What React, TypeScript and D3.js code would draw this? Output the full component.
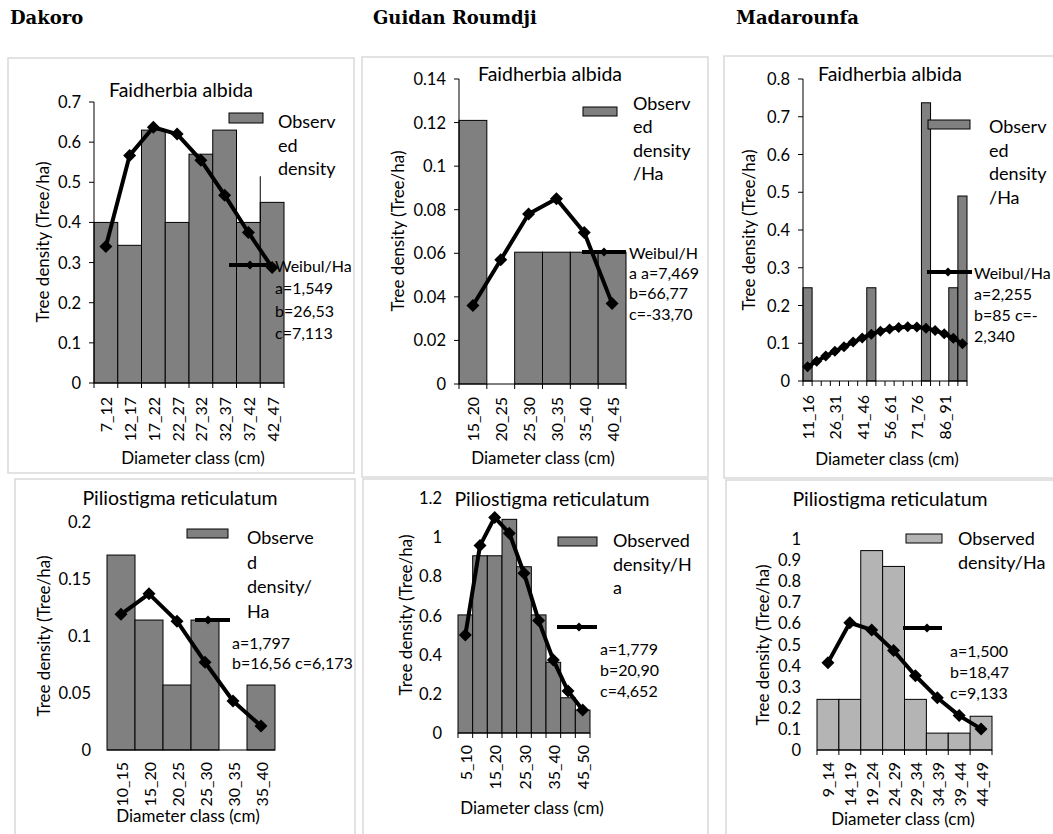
import React from 'react';
import * as d3 from 'd3';

// Dakoro - Faidherbia albida
const dakFaidClasses = ['7_12', '12_17', '17_22', '22_27', '27_32', '32_37', '37_42', '42_47'];
const dakFaidObserved = [0.40, 0.343, 0.63, 0.40, 0.57, 0.63, 0.40, 0.45];
const dakFaidWeibull = [0.34, 0.567, 0.637, 0.62, 0.555, 0.468, 0.375, 0.288];

// Guidan Roumdji - Faidherbia albida
const gurFaidClasses = ['15_20', '20_25', '25_30', '30_35', '35_40', '40_45'];
const gurFaidObserved = [0.121, 0, 0.0605, 0.0605, 0.0605, 0.0605];
const gurFaidWeibull = [0.036, 0.057, 0.078, 0.085, 0.0695, 0.037];

// Madarounfa - Faidherbia albida
const madFaidClasses = ['11_16', '16_21', '21_26', '26_31', '31_36', '36_41', '41_46', '46_51', '51_56',
  '56_61', '61_66', '66_71', '71_76', '76_81', '81_86', '86_91', '91_96', '96_101'];
const madFaidObserved = [0.247, 0, 0, 0, 0, 0, 0, 0.247, 0, 0, 0, 0, 0, 0.737, 0, 0, 0.247, 0.49];
const madFaidWeibull = [0.038, 0.052, 0.066, 0.079, 0.091, 0.103, 0.114, 0.124, 0.132,
  0.138, 0.142, 0.144, 0.143, 0.140, 0.134, 0.125, 0.113, 0.099];

// Dakoro - Piliostigma reticulatum
const dakPiliClasses = ['10_15', '15_20', '20_25', '25_30', '30_35', '35_40'];
const dakPiliObserved = [0.171, 0.114, 0.057, 0.114, 0, 0.057];
const dakPiliWeibull = [0.119, 0.137, 0.113, 0.077, 0.043, 0.021];

// Guidan Roumdji - Piliostigma reticulatum
const gurPiliClasses = ['5_10', '10_15', '15_20', '20_25', '25_30', '30_35', '35_40', '40_45', '45_50'];
const gurPiliObserved = [0.603, 0.905, 0.905, 1.091, 0.849, 0.603, 0.361, 0.18, 0.117];
const gurPiliWeibull = [0.50, 0.957, 1.101, 1.02, 0.816, 0.574, 0.373, 0.214, 0.117];

// Madarounfa - Piliostigma reticulatum
const madPiliClasses = ['9_14', '14_19', '19_24', '24_29', '29_34', '34_39', '39_44', '44_49'];
const madPiliObserved = [0.24, 0.24, 0.945, 0.87, 0.24, 0.08, 0.08, 0.16];
const madPiliWeibull = [0.414, 0.603, 0.569, 0.471, 0.352, 0.248, 0.163, 0.100];

const sites = [
  { name: 'Dakoro', x: 10 },
  { name: 'Guidan Roumdji', x: 373 },
  { name: 'Madarounfa', x: 736 },
];

const FONT = "Lato, 'Open Sans', sans-serif";
// font sizes
const FS = { title: 19.5, yTick: 16.5, xTick: 16, axis: 17, legend: 18, param: 16 };

const panels = [
  {
    box: [8, 58, 346, 415], left: 94, right: 284, y0: 383, yTop: 102, yMax: 0.7, step: 0.1,
    classes: dakFaidClasses, observed: dakFaidObserved, weibull: dakFaidWeibull, every: 1,
    fill: '#808080', yLine: true, xTicks: true, markerR: 6.5,
    title: ['Faidherbia albida', 181, 89], yTitle: [42, 242], xTitle: [193, 457], tickTop: 397,
    obs: { x1: 229, x2: 263, y1: 113, y2: 123, tx: 278, ty: 121, dy: 23.5, lines: ['Observ', 'ed', 'density'] },
    wl: { x1: 229, x2: 273, y: 265, mx: 250, tx: 275, ty: 265, dy: 22.5, lines: ['Weibul/Ha', 'a=1,549', 'b=26,53', 'c=7,113'] },
    extra: { at: 7, from: 0.40, to: 0.515 },
  },
  {
    box: [362, 57, 346, 420], left: 459, right: 626, y0: 384, yTop: 79, yMax: 0.14, step: 0.02,
    classes: gurFaidClasses, observed: gurFaidObserved, weibull: gurFaidWeibull, every: 1,
    fill: '#808080', yLine: true, xTicks: true, markerR: 6.5,
    title: ['Faidherbia albida', 550, 73], yTitle: [397, 231], xTitle: [543, 457], tickTop: 397,
    obs: { x1: 583, x2: 617, y1: 107, y2: 116, tx: 633, ty: 103, dy: 23.3, lines: ['Observ', 'ed', 'density', '/Ha'] },
    wl: { x1: 582, x2: 626, y: 252, mx: 604, tx: 629, ty: 252, dy: 20.4, lines: ['Weibul/H', 'a a=7,469', 'b=66,77', 'c=-33,70'] },
  },
  {
    box: [724, 56, 340, 422], left: 803, right: 967, y0: 381, yTop: 79, yMax: 0.8, step: 0.1,
    classes: madFaidClasses, observed: madFaidObserved, weibull: madFaidWeibull, every: 3,
    fill: '#808080', yLine: true, xTicks: true, markerR: 5.5,
    title: ['Faidherbia albida', 890, 73], yTitle: [748, 230], xTitle: [887, 458], tickTop: 395,
    obs: { x1: 928, x2: 970, y1: 120, y2: 129, tx: 989, ty: 126, dy: 23.7, lines: ['Observ', 'ed', 'density', '/Ha'] },
    wl: { x1: 927, x2: 972, y: 272, mx: 948, tx: 974, ty: 272, dy: 21.3, lines: ['Weibul/Ha', 'a=2,255', 'b=85 c=-', '2,340'] },
  },
  {
    box: [15, 479, 340, 370], left: 107, right: 275, y0: 750, yTop: 522, yMax: 0.2, step: 0.05,
    classes: dakPiliClasses, observed: dakPiliObserved, weibull: dakPiliWeibull, every: 1,
    fill: '#808080', yLine: false, xTicks: false, markerR: 6.5,
    title: ['Piliostigma reticulatum', 180, 497], yTitle: [43, 636], xTitle: [188, 815], tickTop: 762,
    obs: { x1: 187, x2: 228, y1: 529, y2: 538, tx: 247, ty: 537, dy: 24.7, lines: ['Observe', 'd', 'density/', 'Ha'] },
    wl: { x1: 195, x2: 230, y: 620, mx: 208, tx: 232, ty: 642, dy: 20.5, lines: ['a=1,797', 'b=16,56 c=6,173'] },
  },
  {
    box: [363, 479, 345, 370], left: 458, right: 590, y0: 733, yTop: 498, yMax: 1.2, step: 0.2,
    classes: gurPiliClasses, observed: gurPiliObserved, weibull: gurPiliWeibull, every: 2,
    fill: '#808080', yLine: false, xTicks: true, markerR: 6.5,
    title: ['Piliostigma reticulatum', 552, 498], yTitle: [405, 615], xTitle: [532, 807], tickTop: 745,
    obs: { x1: 558, x2: 597, y1: 537, y2: 546, tx: 613, ty: 540, dy: 23.5, lines: ['Observed', 'density/H', 'a'] },
    wl: { x1: 557, x2: 597, y: 627, mx: 579, tx: 600, ty: 648, dy: 21, lines: ['a=1,779', 'b=20,90', 'c=4,652'] },
  },
  {
    box: [726, 480, 340, 370], left: 817, right: 992, y0: 750, yTop: 539, yMax: 1.0, step: 0.1,
    classes: madPiliClasses, observed: madPiliObserved, weibull: madPiliWeibull, every: 1,
    fill: '#b4b4b4', yLine: false, xTicks: true, markerR: 6.5,
    title: ['Piliostigma reticulatum', 890, 498], yTitle: [762, 645], xTitle: [903, 818], tickTop: 762,
    obs: { x1: 906, x2: 942, y1: 534, y2: 543, tx: 958, ty: 538, dy: 24, lines: ['Observed', 'density/Ha'] },
    wl: { x1: 903, x2: 942, y: 628, mx: 927, tx: 950, ty: 650, dy: 21, lines: ['a=1,500', 'b=18,47', 'c=9,133'] },
  },
];

const diamond = (cx, cy, r) => `M${cx},${cy - r}L${cx + r},${cy}L${cx},${cy + r}L${cx - r},${cy}Z`;

function Panel({ p }) {
  const x = d3.scaleBand().domain(p.classes).range([p.left, p.right]).padding(0);
  const y = d3.scaleLinear().domain([0, p.yMax]).range([p.y0, p.yTop]);
  const bw = x.bandwidth();
  const n = Math.round(p.yMax / p.step);
  const yTicks = d3.range(0, n + 1).map((i) => +(i * p.step).toFixed(4));
  const line = d3.line().x((d, i) => x(p.classes[i]) + bw / 2).y((d) => y(d));
  const [bx, by, bwid, bh] = p.box;

  return (
    <g fontFamily={FONT} fill="#000">
      <rect x={bx} y={by} width={bwid} height={bh} fill="#fff" stroke="#d9d9d9" strokeWidth={1.5} />
      <text x={p.title[1]} y={p.title[2]} textAnchor="middle" dominantBaseline="central" fontSize={FS.title}>{p.title[0]}</text>

      {yTicks.map((t) => (
        <g key={t}>
          <text x={p.left - (p.yLine ? 13 : 16)} y={y(t)} textAnchor="end" dominantBaseline="central" fontSize={FS.yTick}>{String(t)}</text>
          {p.yLine && <line x1={p.left - 5} x2={p.left} y1={y(t)} y2={y(t)} stroke="#000" strokeWidth={1} />}
        </g>
      ))}

      {p.observed.map((v, i) => (v > 0 ? (
        <rect key={p.classes[i]} x={x(p.classes[i])} y={y(v)} width={bw} height={p.y0 - y(v)}
          fill={p.fill} stroke="#000" strokeWidth={1} />
      ) : null))}
      {p.extra && (
        <line x1={x(p.classes[p.extra.at])} x2={x(p.classes[p.extra.at])} y1={y(p.extra.from)} y2={y(p.extra.to)} stroke="#000" strokeWidth={1} />
      )}

      {p.yLine && <line x1={p.left} x2={p.left} y1={p.yTop} y2={p.y0} stroke="#000" strokeWidth={1} />}
      <line x1={p.left} x2={p.right} y1={p.y0} y2={p.y0} stroke="#000" strokeWidth={1} />
      {p.xTicks && d3.range(0, p.classes.length + 1).map((i) => (
        <line key={i} x1={p.left + i * bw} x2={p.left + i * bw} y1={p.y0} y2={p.y0 + 5} stroke="#000" strokeWidth={1} />
      ))}

      {p.classes.map((c, i) => (i % p.every === 0 ? (
        <text key={c} transform={`translate(${x(c) + bw / 2},${p.tickTop}) rotate(-90)`} textAnchor="end"
          dominantBaseline="central" fontSize={FS.xTick}>{c}</text>
      ) : null))}

      <path d={line(p.weibull)} fill="none" stroke="#000" strokeWidth={4} strokeLinejoin="round" />
      {p.weibull.map((v, i) => (
        <path key={i} d={diamond(x(p.classes[i]) + bw / 2, y(v), p.markerR)} fill="#000" />
      ))}

      <text transform={`translate(${p.yTitle[0]},${p.yTitle[1]}) rotate(-90)`} textAnchor="middle"
        dominantBaseline="central" fontSize={FS.axis}>Tree density (Tree/ha)</text>
      <text x={p.xTitle[0]} y={p.xTitle[1]} textAnchor="middle" dominantBaseline="central" fontSize={FS.axis}>Diameter class (cm)</text>

      <rect x={p.obs.x1} y={p.obs.y1} width={p.obs.x2 - p.obs.x1} height={p.obs.y2 - p.obs.y1}
        fill={p.fill} stroke="#000" strokeWidth={1} />
      {p.obs.lines.map((s, i) => (
        <text key={s} x={p.obs.tx} y={p.obs.ty + i * p.obs.dy} dominantBaseline="central" fontSize={FS.legend}>{s}</text>
      ))}

      <line x1={p.wl.x1} x2={p.wl.x2} y1={p.wl.y} y2={p.wl.y} stroke="#000" strokeWidth={4} />
      <path d={diamond(p.wl.mx, p.wl.y, 4.5)} fill="#000" />
      {p.wl.lines.map((s, i) => (
        <text key={s} x={p.wl.tx} y={p.wl.ty + i * p.wl.dy} dominantBaseline="central" fontSize={FS.param}>{s}</text>
      ))}
    </g>
  );
}

export default function App() {
  return (
    <svg width={1053} height={834} style={{ position: 'absolute', left: 0, top: 0, background: '#fff' }}>
      <rect width={1053} height={834} fill="#fff" />
      {sites.map((s) => (
        <text key={s.name} x={s.x} y={24} fontFamily="'DejaVu Serif', serif" fontWeight="bold" fontSize={18}>{s.name}</text>
      ))}
      {panels.map((p, i) => <Panel key={i} p={p} />)}
    </svg>
  );
}
